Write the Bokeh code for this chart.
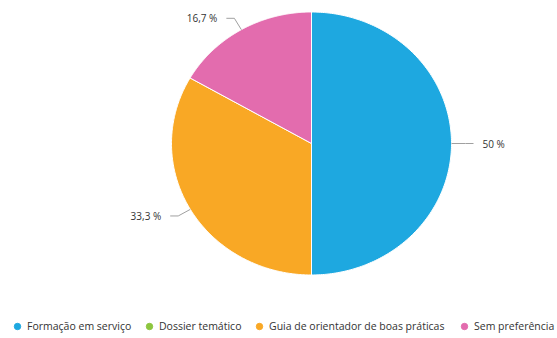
import numpy as np
from bokeh.plotting import figure
from bokeh.models import ColumnDataSource, Legend, LegendItem, Range1d
from bokeh.embed import file_html
from bokeh.resources import INLINE
from bokeh.core.properties import value

categories = ["Formação em serviço", "Dossier temático",
              "Guia de orientador de boas práticas", "Sem preferência"]
values = [50.0, 0.0, 33.3, 16.7]
label_texts = ["50 %", "", "33,3 %", "16,7 %"]
colors = ["#1EA8E0", "#8DC63F", "#F9A825", "#E36CAE"]

FONT = "Open Sans"
W, H = 557, 338
CX, CY = 311, 143          # pie centre in pixels from top-left
RX, RY = 140, 131.5        # pie radius in pixels

p = figure(width=W, height=H, output_backend="svg", toolbar_location=None,
           x_range=Range1d(-CX / RX, (W - CX) / RX),
           y_range=Range1d(-(H - CY) / RY, CY / RY),
           min_border=0)
p.axis.visible = False
p.grid.visible = False
p.outline_line_color = None
p.background_fill_color = "white"
p.border_fill_color = "white"

# legend marker renderers (drawn first, hidden beneath the pie)
legend_renderers = []
for i, cat in enumerate(categories):
    r = p.scatter(x=[0], y=[0], marker="circle", fill_color=colors[i],
                  line_color=colors[i], size=7)
    legend_renderers.append(r)

total = sum(values)
fr = np.cumsum([0.0] + [v / total for v in values])

xs, ys, fc = [], [], []
lx, ly = [], []
tx, ty, tt, ta = [], [], [], []
for i, v in enumerate(values):
    if v <= 0:
        continue
    a0 = np.pi / 2 - 2 * np.pi * fr[i]
    a1 = np.pi / 2 - 2 * np.pi * fr[i + 1]
    t = np.linspace(a0, a1, 200)
    xs.append(list(np.concatenate([[0], np.cos(t), [0]])))
    ys.append(list(np.concatenate([[0], np.sin(t), [0]])))
    fc.append(colors[i])
    am = (a0 + a1) / 2
    ex, ey = np.cos(am), np.sin(am)
    bx, by = 1.1 * ex, 1.1 * ey
    side = 1 if ex >= 0 else -1
    cx2 = bx + side * 8 / RX
    lx.append([ex, bx, cx2])
    ly.append([ey, by, by])
    tx.append(cx2 + side * 9 / RX)
    ty.append(by)
    tt.append(label_texts[i])
    ta.append("left" if side > 0 else "right")

p.patches(xs="xs", ys="ys", fill_color="fc", line_color="white", line_width=1,
          source=ColumnDataSource(dict(xs=xs, ys=ys, fc=fc)))
p.multi_line(xs=lx, ys=ly, line_color="#A0A0A0", line_width=1)
p.text(x="x", y="y", text="t", text_align="a", text_baseline="middle",
       text_font=value(FONT), text_font_size="10px", text_color="#333333",
       source=ColumnDataSource(dict(x=tx, y=ty, t=tt, a=ta)))

legend_x = [9, 141, 251, 456]
for i, cat in enumerate(categories):
    lg = Legend(items=[LegendItem(label=cat, renderers=[legend_renderers[i]])],
                location=(legend_x[i], 4), orientation="horizontal",
                glyph_width=16, glyph_height=16, label_standoff=2,
                label_text_font=FONT, label_text_font_size="10.5px",
                label_text_color="#333333", padding=0, margin=0,
                background_fill_alpha=0, border_line_alpha=0)
    p.add_layout(lg, "center")

open("out.html", "w").write(file_html(p, INLINE))
